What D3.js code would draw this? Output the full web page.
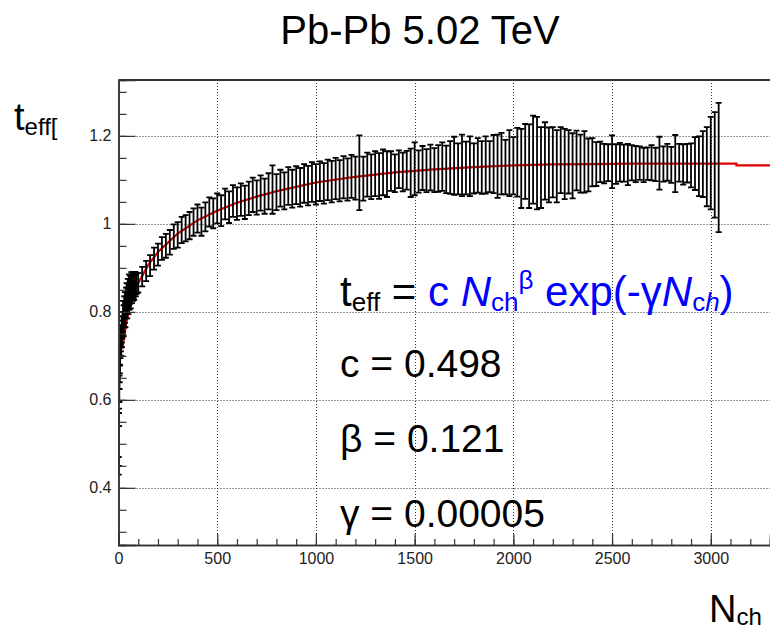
<!DOCTYPE html>
<html>
<head>
<meta charset="utf-8">
<script src="https://cdn.jsdelivr.net/npm/d3@7"></script>
<style>
	body { margin: 0; background: #fff; }
	svg { display: block; font-family: "Liberation Sans", Arial, sans-serif; }
</style>
</head>
<body>
<svg id="plot" width="770" height="629"></svg>
<script>

// low multiplicity points, finer spacing
const LOW_NCH = [1, 2, 3, 4, 5, 6, 7, 8, 10, 12, 14, 16, 18, 20, 23, 26, 29, 32, 35, 38,
	41, 44, 47, 50, 53, 56, 59, 62, 65, 68, 71, 74, 77, 80, 84, 88, 92];
const LOW_TEFF = [0.45, 0.51, 0.56, 0.61, 0.64, 0.66, 0.68, 0.70, 0.72, 0.74, 0.73, 0.76, 0.75, 0.77, 0.79, 0.78, 0.80, 0.81, 0.80, 0.82,
	0.83, 0.82, 0.84, 0.83, 0.85, 0.84, 0.85, 0.84, 0.86, 0.85, 0.86, 0.855, 0.86, 0.855, 0.865, 0.86, 0.865];
const LOW_ERR = [0.02, 0.06, 0.02, 0.015, 0.015, 0.02, 0.02, 0.022, 0.025, 0.03, 0.03, 0.03, 0.03, 0.03, 0.035, 0.035, 0.035, 0.035, 0.035, 0.035,
	0.035, 0.035, 0.035, 0.035, 0.035, 0.035, 0.032, 0.032, 0.03, 0.03, 0.03, 0.03, 0.028, 0.028, 0.026, 0.025, 0.024];

// main bins
const NCH = [
	100, 120, 140, 160, 180, 200, 220, 240, 260, 280,
	300, 320, 340, 360, 380, 400, 420, 440, 460, 480,
	500, 520, 540, 560, 580, 600, 620, 640, 660, 680,
	700, 720, 740, 760, 780, 800, 820, 840, 860, 880,
	900, 920, 940, 960, 980, 1000, 1020, 1040, 1060, 1080,
	1100, 1120, 1140, 1160, 1180, 1200, 1220, 1240, 1260, 1280,
	1300, 1320, 1340, 1360, 1380, 1400, 1420, 1440, 1460, 1480,
	1500, 1520, 1540, 1560, 1580, 1600, 1620, 1640, 1660, 1680,
	1700, 1720, 1740, 1760, 1780, 1800, 1820, 1840, 1860, 1880,
	1900, 1920, 1940, 1960, 1980, 2000, 2020, 2040, 2060, 2080,
	2100, 2120, 2140, 2160, 2180, 2200, 2220, 2240, 2260, 2280,
	2300, 2320, 2340, 2360, 2380, 2400, 2420, 2440, 2460, 2480,
	2500, 2520, 2540, 2560, 2580, 2600, 2620, 2640, 2660, 2680,
	2700, 2720, 2740, 2760, 2780, 2800, 2820, 2840, 2860, 2880,
	2900, 2920, 2940, 2960, 2980, 3000, 3020, 3040];
const TEFF = [
	0.866, 0.880, 0.893, 0.905, 0.921, 0.930, 0.944, 0.950, 0.958, 0.971,
	0.975, 0.986, 0.990, 0.996, 1.004, 1.012, 1.005, 1.016, 1.027, 1.024,
	1.035, 1.030, 1.045, 1.038, 1.052, 1.046, 1.055, 1.049, 1.058, 1.066,
	1.060, 1.070, 1.063, 1.074, 1.078, 1.072, 1.081, 1.075, 1.086, 1.080,
	1.088, 1.083, 1.092, 1.087, 1.095, 1.090, 1.097, 1.092, 1.100, 1.096,
	1.103, 1.098, 1.106, 1.101, 1.108, 1.104, 1.116, 1.103, 1.112, 1.107,
	1.114, 1.109, 1.117, 1.113, 1.120, 1.115, 1.124, 1.118, 1.122, 1.116,
	1.125, 1.119, 1.127, 1.121, 1.128, 1.122, 1.126, 1.130, 1.124, 1.128,
	1.132, 1.125, 1.133, 1.127, 1.131, 1.126, 1.133, 1.128, 1.134, 1.130,
	1.136, 1.131, 1.137, 1.129, 1.138, 1.132, 1.140, 1.126, 1.142, 1.131,
	1.146, 1.138, 1.128, 1.143, 1.134, 1.140, 1.131, 1.145, 1.136, 1.141,
	1.132, 1.144, 1.137, 1.141, 1.134, 1.140, 1.136, 1.141, 1.137, 1.139,
	1.141, 1.136, 1.140, 1.138, 1.135, 1.139, 1.136, 1.138, 1.134, 1.137,
	1.139, 1.135, 1.138, 1.136, 1.140, 1.134, 1.137, 1.139, 1.135, 1.138,
	1.133, 1.137, 1.131, 1.136, 1.130, 1.138, 1.134, 1.128];
const TEFF_ERR = [
	0.022, 0.022, 0.023, 0.024, 0.025, 0.025, 0.026, 0.027, 0.028, 0.028,
	0.029, 0.030, 0.030, 0.031, 0.031, 0.032, 0.032, 0.033, 0.033, 0.034,
	0.034, 0.035, 0.035, 0.036, 0.036, 0.037, 0.037, 0.038, 0.038, 0.039,
	0.039, 0.040, 0.040, 0.041, 0.055, 0.041, 0.042, 0.042, 0.043, 0.043,
	0.043, 0.044, 0.044, 0.045, 0.045, 0.046, 0.045, 0.046, 0.046, 0.047,
	0.047, 0.047, 0.048, 0.048, 0.049, 0.049, 0.085, 0.050, 0.050, 0.051,
	0.051, 0.052, 0.052, 0.052, 0.045, 0.043, 0.043, 0.044, 0.044, 0.055,
	0.060, 0.048, 0.050, 0.049, 0.052, 0.050, 0.053, 0.055, 0.054, 0.060,
	0.066, 0.058, 0.070, 0.060, 0.068, 0.057, 0.062, 0.060, 0.065, 0.058,
	0.066, 0.072, 0.070, 0.062, 0.075, 0.065, 0.078, 0.090, 0.085, 0.095,
	0.100, 0.105, 0.092, 0.088, 0.085, 0.080, 0.082, 0.075, 0.080, 0.072,
	0.074, 0.068, 0.066, 0.070, 0.060, 0.055, 0.050, 0.046, 0.045, 0.042,
	0.060, 0.045, 0.044, 0.042, 0.047, 0.040, 0.041, 0.038, 0.039, 0.037,
	0.040, 0.038, 0.060, 0.040, 0.042, 0.041, 0.065, 0.043, 0.046, 0.044,
	0.050, 0.060, 0.068, 0.075, 0.090, 0.105, 0.120, 0.147];

// fitted curve
const FIT_NCH = [20, 40, 60, 80, 100, 150, 200, 300, 400, 500, 600, 700, 800, 900, 1000,
	1200, 1400, 1600, 1800, 2000, 2200, 2400, 2600, 2800, 3000, 3130, 3130, 3300];
const FIT_TEFF = [0.716, 0.777, 0.815, 0.843, 0.865, 0.906, 0.936, 0.978, 1.008, 1.030, 1.048, 1.062, 1.074, 1.084, 1.094,
	1.107, 1.117, 1.124, 1.129, 1.133, 1.135, 1.136, 1.137, 1.137, 1.137, 1.137, 1.133, 1.133];

const X_TICKS = [0, 500, 1000, 1500, 2000, 2500, 3000];
const Y_TICKS = [0.4, 0.6, 0.8, 1, 1.2];

const FIT_PARAMS = ['c = 0.498', 'β = 0.121', 'γ = 0.00005'];

function whenDocumentLoaded(action) {
	if (document.readyState === "loading") {
		document.addEventListener("DOMContentLoaded", action);
	} else {
		action();
	}
}

whenDocumentLoaded(() => {
	const svg = d3.select('#plot');
	const left = 118.5, right = 770, top = 80, bottom = 545;

	const x = d3.scaleLinear().domain([0, 3300]).range([left, right]);
	const y = d3.scaleLinear().domain([0.27, 1.327]).range([bottom, top]);

	svg.append('rect').attr('width', 770).attr('height', 629).attr('fill', '#fff');

	// grid
	const grid = svg.append('g').attr('stroke', '#333').attr('stroke-width', 1)
		.attr('stroke-dasharray', '1,2');
	grid.selectAll('line.gx')
		.data(X_TICKS.filter(d => d > 0))
		.enter().append('line')
		.attr('x1', d => Math.round(x(d)) + 0.5).attr('x2', d => Math.round(x(d)) + 0.5)
		.attr('y1', top).attr('y2', bottom);
	grid.selectAll('line.gy')
		.data(Y_TICKS)
		.enter().append('line')
		.attr('x1', left).attr('x2', right)
		.attr('y1', d => Math.round(y(d)) + 0.5).attr('y2', d => Math.round(y(d)) + 0.5);

	svg.append('clipPath').attr('id', 'clip')
		.append('rect').attr('x', left).attr('y', top).attr('width', right - left).attr('height', bottom - top);

	// fit line (under the bars)
	const fitData = FIT_NCH.map((n, i) => ({n: n, v: FIT_TEFF[i]}));
	svg.append('path')
		.datum(fitData)
		.attr('clip-path', 'url(#clip)')
		.attr('fill', 'none')
		.attr('stroke', '#e00000')
		.attr('stroke-width', 2.2)
		.attr('d', d3.line().x(d => x(d.n)).y(d => y(d.v)));

	// data points with error bars
	const pts = LOW_NCH.map((n, i) => ({n: n, v: LOW_TEFF[i], e: LOW_ERR[i]}))
		.concat(NCH.map((n, i) => ({n: n, v: TEFF[i], e: TEFF_ERR[i]})));
	const cap = 3;
	const bars = svg.append('g').attr('stroke', '#000').attr('stroke-width', 1.8)
		.attr('clip-path', 'url(#clip)');
	const bar = bars.selectAll('g')
		.data(pts)
		.enter().append('g');
	bar.append('line')
		.attr('x1', d => x(d.n)).attr('x2', d => x(d.n))
		.attr('y1', d => y(d.v + d.e)).attr('y2', d => y(d.v - d.e));
	bar.append('line')
		.attr('x1', d => x(d.n) - cap).attr('x2', d => x(d.n) + cap)
		.attr('y1', d => y(d.v + d.e)).attr('y2', d => y(d.v + d.e));
	bar.append('line')
		.attr('x1', d => x(d.n) - cap).attr('x2', d => x(d.n) + cap)
		.attr('y1', d => y(d.v - d.e)).attr('y2', d => y(d.v - d.e));

	// axes, ticks point inward
	const xMinor = [0, 100, 200, 300, 400, 500, 600, 700, 800, 900, 1000, 1100, 1200, 1300, 1400, 1500,
		1600, 1700, 1800, 1900, 2000, 2100, 2200, 2300, 2400, 2500, 2600, 2700, 2800, 2900, 3000, 3100, 3200, 3300];
	const yMinor = [0.3, 0.35, 0.4, 0.45, 0.5, 0.55, 0.6, 0.65, 0.7, 0.75, 0.8, 0.85, 0.9, 0.95,
		1, 1.05, 1.1, 1.15, 1.2, 1.25, 1.3];

	const xAxisMinor = svg.append('g').attr('transform', `translate(0,${bottom})`)
		.call(d3.axisBottom(x).tickValues(xMinor).tickSize(-6).tickFormat(''));
	const xAxis = svg.append('g').attr('transform', `translate(0,${bottom})`)
		.call(d3.axisBottom(x).tickValues(X_TICKS).tickSize(-11).tickPadding(8).tickFormat(d3.format('d')));
	const yAxisMinor = svg.append('g').attr('transform', `translate(${left},0)`)
		.call(d3.axisLeft(y).tickValues(yMinor).tickSize(-8).tickFormat(''));
	const yAxis = svg.append('g').attr('transform', `translate(${left},0)`)
		.call(d3.axisLeft(y).tickValues(Y_TICKS).tickSize(-17).tickPadding(7).tickFormat(d => d3.format('')(d)));

	[xAxisMinor, xAxis, yAxisMinor, yAxis].forEach(a => {
		a.selectAll('line').attr('stroke', '#333').attr('stroke-width', 1.2);
		a.select('.domain').attr('stroke', '#333').attr('stroke-width', 1.5);
		a.selectAll('text').attr('fill', '#222').attr('font-size', 16)
			.attr('font-family', '"Liberation Sans", Arial, sans-serif');
	});

	// top frame
	svg.append('line')
		.attr('x1', left).attr('x2', right).attr('y1', top).attr('y2', top)
		.attr('stroke', '#333').attr('stroke-width', 2);

	// title
	svg.append('text')
		.attr('x', 420).attr('y', 44)
		.attr('text-anchor', 'middle')
		.attr('font-size', 40)
		.text('Pb-Pb 5.02 TeV');

	// axis titles
	const yt = svg.append('text').attr('x', 14).attr('y', 130).attr('font-size', 38);
	yt.append('tspan').text('t');
	yt.append('tspan').attr('font-size', 24).attr('dy', 5).text('eff[');

	const xt = svg.append('text').attr('x', 709).attr('y', 622).attr('font-size', 38);
	xt.append('tspan').text('N');
	xt.append('tspan').attr('font-size', 24).attr('dy', 3).text('ch');

	// formula
	const f = svg.append('text').attr('x', 340).attr('y', 306).attr('font-size', 42);
	f.append('tspan').text('t');
	f.append('tspan').attr('font-size', 26).attr('dy', 5).text('eff');
	f.append('tspan').attr('dy', -5).text(' = ');
	f.append('tspan').attr('fill', '#0000ff').text('c ');
	f.append('tspan').attr('fill', '#0000ff').attr('font-style', 'italic').text('N');
	f.append('tspan').attr('fill', '#0000ff').attr('font-size', 26).attr('dy', 5).text('ch');
	f.append('tspan').attr('fill', '#0000ff').attr('font-size', 26).attr('dy', -22).text('β');
	f.append('tspan').attr('fill', '#0000ff').attr('dy', 17).text(' exp(-γ');
	f.append('tspan').attr('fill', '#0000ff').attr('font-style', 'italic').text('N');
	f.append('tspan').attr('fill', '#0000ff').attr('font-size', 26).attr('dy', 5).text('c');
	f.append('tspan').attr('fill', '#0000ff').attr('font-size', 26).attr('font-style', 'italic').text('h');
	f.append('tspan').attr('fill', '#0000ff').attr('dy', -5).text(')');

	svg.append('g').selectAll('text')
		.data(FIT_PARAMS)
		.enter().append('text')
		.attr('x', 340)
		.attr('y', (d, i) => 377 + i * 75)
		.attr('font-size', 39)
		.text(d => d);
});
</script>
</body>
</html>
